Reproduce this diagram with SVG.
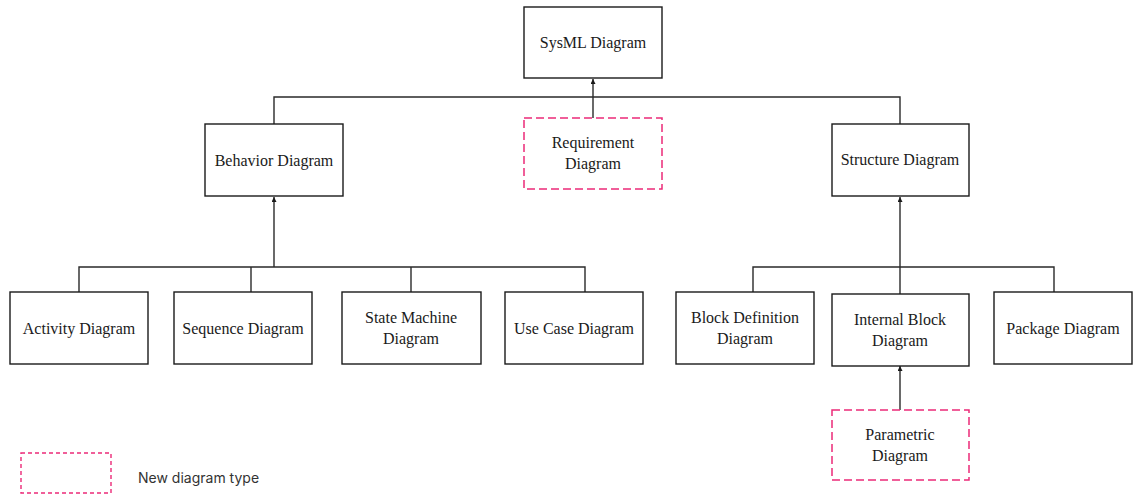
<svg xmlns="http://www.w3.org/2000/svg" width="1133" height="495" viewBox="0 0 1133 495">
  <style>
    .box { fill: #ffffff; stroke: #1a1a1a; stroke-width: 1.4; }
    .new { fill: #ffffff; stroke: #ec2a78; stroke-width: 1.5; stroke-dasharray: 8 4; }
    .legend { fill: none; stroke: #ec2a78; stroke-width: 1.4; stroke-dasharray: 4 3; }
    .lbl { font-family: "Liberation Serif", "Times New Roman", serif; font-size: 16px; fill: #1a1a1a; text-anchor: middle; }
    .note { font-family: "Inter", "Noto Sans", "Liberation Sans", sans-serif; font-size: 14px; fill: #333333; }
    .wire { fill: none; stroke: #2a2a2a; stroke-width: 1.4; }
  </style>
  <defs>
    <marker id="tip" viewBox="0 0 6 6" refX="6" refY="3" markerWidth="5" markerHeight="5" markerUnits="userSpaceOnUse" orient="auto">
      <path d="M0,0 L6,3 L0,6 Z" fill="#1a1a1a"/>
    </marker>
  </defs>

  <rect width="1133" height="495" fill="#ffffff"/>

  <!-- connectors -->
  <g id="connectors">
    <!-- top level -->
    <path class="wire" d="M274,124 V97 H900 V124"/>
    <path class="wire" d="M593,118 V79" marker-end="url(#tip)"/>
    <!-- behavior children -->
    <path class="wire" d="M79,292 V267 H585 V292"/>
    <path class="wire" d="M251,267 V292"/>
    <path class="wire" d="M411,267 V292"/>
    <path class="wire" d="M274,267 V197" marker-end="url(#tip)"/>
    <!-- structure children -->
    <path class="wire" d="M753,292 V267 H1054 V292"/>
    <path class="wire" d="M900,294 V197" marker-end="url(#tip)"/>
    <!-- parametric -->
    <path class="wire" d="M900,410 V366" marker-end="url(#tip)"/>
  </g>

  <g id="sysml">
    <rect class="box" x="524" y="7" width="138" height="71"/>
    <text class="lbl" x="593" y="48">SysML Diagram</text>
  </g>

  <g id="behavior">
    <rect class="box" x="205" y="124" width="138" height="72"/>
    <text class="lbl" x="274" y="166">Behavior Diagram</text>
  </g>

  <g id="requirement">
    <rect class="new" x="524" y="118" width="138" height="71"/>
    <text class="lbl" x="593" y="148">Requirement</text>
    <text class="lbl" x="593" y="169">Diagram</text>
  </g>

  <g id="structure">
    <rect class="box" x="832" y="124" width="137" height="72"/>
    <text class="lbl" x="900" y="165">Structure Diagram</text>
  </g>

  <g id="activity">
    <rect class="box" x="10" y="292" width="138" height="72"/>
    <text class="lbl" x="79" y="334">Activity Diagram</text>
  </g>

  <g id="sequence">
    <rect class="box" x="174" y="292" width="138" height="72"/>
    <text class="lbl" x="243" y="334">Sequence Diagram</text>
  </g>

  <g id="state-machine">
    <rect class="box" x="342" y="292" width="139" height="72"/>
    <text class="lbl" x="411" y="323">State Machine</text>
    <text class="lbl" x="411" y="344">Diagram</text>
  </g>

  <g id="use-case">
    <rect class="box" x="505" y="292" width="138" height="72"/>
    <text class="lbl" x="574" y="334">Use Case Diagram</text>
  </g>

  <g id="block-definition">
    <rect class="box" x="676" y="292" width="138" height="72"/>
    <text class="lbl" x="745" y="323">Block Definition</text>
    <text class="lbl" x="745" y="344">Diagram</text>
  </g>

  <g id="internal-block">
    <rect class="box" x="832" y="294" width="137" height="72"/>
    <text class="lbl" x="900" y="325">Internal Block</text>
    <text class="lbl" x="900" y="346">Diagram</text>
  </g>

  <g id="package">
    <rect class="box" x="994" y="292" width="138" height="72"/>
    <text class="lbl" x="1063" y="334">Package Diagram</text>
  </g>

  <g id="parametric">
    <rect class="new" x="832" y="410" width="137" height="70"/>
    <text class="lbl" x="900" y="440">Parametric</text>
    <text class="lbl" x="900" y="461">Diagram</text>
  </g>

  <g id="legend">
    <rect class="legend" x="21" y="453" width="90" height="40"/>
    <text class="note" x="138" y="483">New diagram type</text>
  </g>
</svg>
